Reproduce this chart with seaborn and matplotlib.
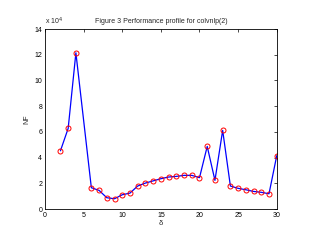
import matplotlib
matplotlib.use("Agg")
import matplotlib.pyplot as plt
import seaborn as sns
import pandas as pd

delta = [2, 3, 4, 6, 7, 8, 9, 10, 11, 12, 13, 14, 15, 16, 17, 18, 19, 20,
         21, 22, 23, 24, 25, 26, 27, 28, 29, 30]
nf = [45300, 62700, 121500, 16600, 14500, 8800, 8000, 11100, 12400, 17900,
      20200, 21900, 23600, 24900, 25400, 26200, 26200, 24400, 48700, 22300,
      61200, 17900, 16100, 15000, 13700, 13000, 11900, 41500]
xticks = [0, 5, 10, 15, 20, 25, 30]
yticks = [0, 2, 4, 6, 8, 10, 12, 14]

sns.set_style("white")
plt.rcParams['font.family'] = ['Liberation Sans', 'DejaVu Sans']

df = pd.DataFrame({"delta": delta, "nf": [v / 1e4 for v in nf]})

fig = plt.figure(figsize=(3.09, 2.40), dpi=100)
ax = fig.add_axes([0.1456, 0.129, 0.75, 0.75])
sns.lineplot(data=df, x="delta", y="nf", ax=ax, color="blue", linewidth=0.9,
             marker="o", markersize=3.6, markerfacecolor="none",
             markeredgecolor="red", markeredgewidth=0.7, sort=False)

ax.set_xlim(0, 30)
ax.set_ylim(0, 14)
ax.set_xticks(xticks)
ax.set_yticks(yticks)
ax.tick_params(direction="in", length=2, width=0.5, labelsize=5,
               top=True, right=True, pad=2, colors="black")
for s in ax.spines.values():
    s.set_color("black")
    s.set_linewidth(0.6)
ax.set_xlabel("δ", fontsize=5.5, labelpad=1)
ax.set_ylabel("NF", fontsize=5, labelpad=3)
ax.set_title("Figure 3 Performance profile for colvnlp(2)", fontsize=5, pad=4)
ax.text(0.0, 1.01, r"x 10$^4$", transform=ax.transAxes, fontsize=5,
        ha="left", va="bottom")
fig.savefig("out.png", dpi=100)
